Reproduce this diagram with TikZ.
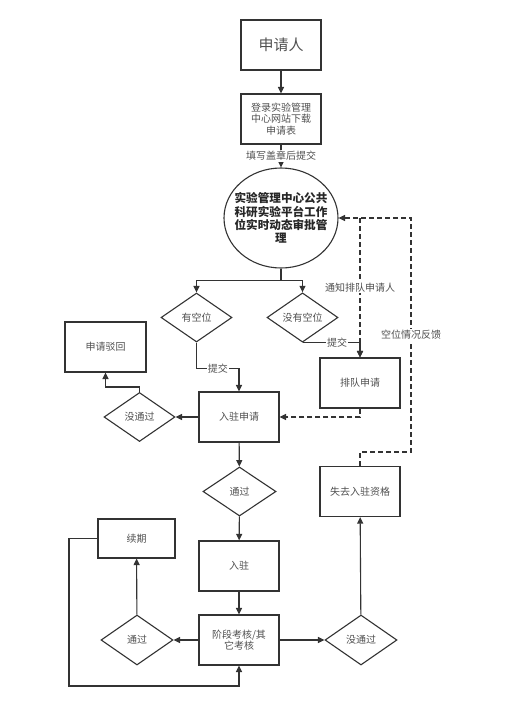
\documentclass[tikz,border=0pt]{standalone}
\usepackage{fontspec}
\newfontfamily\cjk{Noto Sans CJK SC}
\usetikzlibrary{arrows.meta, shapes.geometric, positioning, calc}
\definecolor{linegray}{HTML}{333333}
\definecolor{textgray}{HTML}{505050}

\begin{document}
\begin{tikzpicture}[x=1pt, y=-1pt,
    font=\cjk\fontsize{10}{11.5}\selectfont, text=textgray,
    box/.style={draw=linegray, line width=1.1pt, rectangle, minimum width=80pt, minimum height=50pt, inner sep=1pt, align=center},
    decision/.style={draw=linegray, line width=1.1pt, diamond, minimum width=71pt, minimum height=49pt, inner sep=0pt},
    lbl/.style={fill=white, inner sep=1pt},
    line/.style={draw=linegray, line width=1.1pt, -{Triangle[width=6pt, length=6.5pt]}},
    dline/.style={line, dash pattern=on 5pt off 3pt}]
      \useasboundingbox (0,0) rectangle (507,704);

      \node[box, font=\cjk\fontsize{15}{17}\selectfont] (apply) at (281, 45) {申请人};
      \node[box] (download) at (281, 119) {登录实验管理\\中心网站下载\\申请表};
      \node[draw=linegray, line width=1.1pt, ellipse, minimum width=114pt, minimum height=100pt, inner sep=0pt] (approve) at (281, 218) {};
      \node[align=center, text=black!85, font=\cjk\bfseries\fontsize{11.6}{13.2}\selectfont] (approvetext) at (approve.center)
            {实验管理中心公共\\科研实验平台工作\\位实时动态审批管\\理};
      \node[decision] (has) at (196.5, 317.5) {有空位};
      \node[decision] (nohas) at (302.5, 317.5) {没有空位};
      \node[box, minimum width=81pt] (reject) at (105.5, 347) {申请驳回};
      \node[box] (queue) at (360, 383) {排队申请};
      \node[box] (enter) at (239, 417) {入驻申请};
      \node[decision] (fail1) at (139.5, 417) {没通过};
      \node[decision, minimum width=73pt] (pass1) at (239.5, 491.5) {通过};
      \node[box] (lose) at (360, 491.5) {失去入驻资格};
      \node[box, minimum width=77pt, minimum height=39pt] (renew) at (136.5, 538.5) {续期};
      \node[box] (settle) at (239, 566) {入驻};
      \node[box] (assess) at (239, 640) {阶段考核/其\\它考核};
      \node[decision, minimum width=72pt, minimum height=50pt] (pass2) at (137, 640) {通过};
      \node[decision, minimum width=72pt, minimum height=50pt] (fail2) at (361, 640) {没通过};

      \coordinate (split) at ($(approve.south)+(0,12)$);
      \coordinate (notify) at (queue.north |- approve.east);
      \coordinate (back) at (411, 218);
      \coordinate (loop) at (69, 686);

      % top part
      \draw[line] (apply) -- (download);
      \draw[line] (download) -- node[lbl] {填写盖章后提交} (approve);
      \draw[line, -] (approve.south) -- (split);
      \draw[line] (split) -| (has.north);
      \draw[line] (split) -| (nohas.north);
      \draw[line] (has.south) -- ++(0, 26) -| node[lbl, pos=0.25] {提交} (enter.north);
      \draw[line] (nohas.south) -| node[lbl, pos=0.3] {提交} (queue.north);
      \draw[dline] (notify) -- node[lbl] {通知排队申请人} (queue.north);
      \draw[dline] (queue.south) |- (enter.east);
      \draw[line] (enter.west) -- (fail1.east);
      \draw[line] (fail1.north) -- ++(0, -5) -| (reject.south);

      % bottom part
      \draw[line] (enter) -- (pass1);
      \draw[line] (pass1) -- (settle);
      \draw[line] (settle) -- (assess);
      \draw[line] (assess) -- (pass2);
      \draw[line] (assess) -- (fail2);
      \draw[line] (pass2) -- (renew);
      \draw[line] (fail2) -- (lose);
      \draw[line] (renew.west) -| (loop) -| (assess.south);
      \draw[dline] (lose.north) -- ++(0, -14) -| node[lbl, pos=0.75] {空位情况反馈} (back) -- (approve.east);
    \end{tikzpicture}
\end{document}
